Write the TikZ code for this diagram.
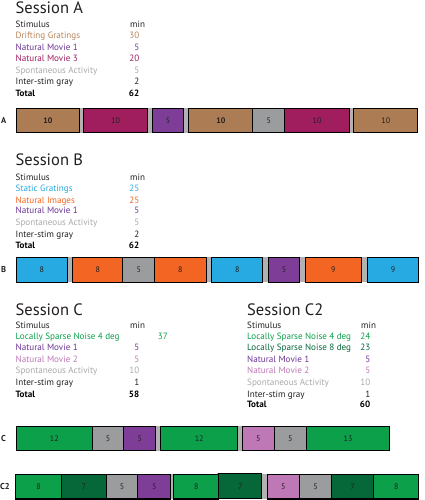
\documentclass[tikz,border=0pt]{standalone}
\usepackage{fontspec}
\setmainfont{PT Sans}
\definecolor{cbrown}{RGB}{172,124,84}
\definecolor{tbrown}{RGB}{184,134,90}
\definecolor{cmag}{RGB}{160,30,94}
\definecolor{cpurp}{RGB}{126,62,152}
\definecolor{tpurp}{RGB}{108,52,150}
\definecolor{cgray}{RGB}{155,156,158}
\definecolor{tgray}{RGB}{170,170,170}
\definecolor{ccyan}{RGB}{39,170,225}
\definecolor{corange}{RGB}{242,101,34}
\definecolor{cgreen}{RGB}{12,160,75}
\definecolor{cdgreen}{RGB}{6,104,56}
\definecolor{cpink}{RGB}{190,120,182}
\definecolor{cgap}{RGB}{178,178,178}
\definecolor{ink}{RGB}{35,31,32}
\tikzset{
  title/.style={anchor=base west, inner sep=0, font=\fontsize{16.5}{17}\selectfont, text=ink},
  row/.style={anchor=base west, inner sep=0, font=\fontsize{9.1}{10}\selectfont},
  num/.style={anchor=base east, inner sep=0, font=\fontsize{9.1}{10}\selectfont},
  bold/.style={font=\fontsize{9.1}{10}\selectfont\bfseries},
  barlabel/.style={anchor=west, inner sep=0, font=\fontsize{8.5}{9}\selectfont\bfseries, text=ink},
  box/.style={draw=black, line width=1.1pt, inner sep=0, anchor=west, font=\fontsize{8}{8}\selectfont, text=ink},
  bbox/.style={font=\fontsize{8}{8}\selectfont\bfseries},
  gapr/.style={fill=cgap, draw=none}
}
\begin{document}
\begin{tikzpicture}[x=1pt,y=-1pt]
\useasboundingbox (0,0) rectangle (424,500);
\fill[white] (0,0) rectangle (424,500);
% ---------- Session A ----------
\node[title] (tA) at (15.5,14) {Session A};
\node[row,text=ink] (sA0) at (15.5,28) {Stimulus};
\node[row,text=ink] (mA0) at (130,28) {min};
\node[row,text=tbrown] (sA1) at (15.5,39) {Drifting Gratings};
\node[num,text=tbrown] (mA1) at (139.5,39) {30};
\node[row,text=tpurp] (sA2) at (15.5,50.5) {Natural Movie 1};
\node[num,text=tpurp] (mA2) at (139.5,50.5) {5};
\node[row,text=cmag] (sA3) at (15.5,62) {Natural Movie 3};
\node[num,text=cmag] (mA3) at (139.5,62) {20};
\node[row,text=tgray] (sA4) at (15.5,73.5) {Spontaneous Activity};
\node[num,text=tgray] (mA4) at (139.5,73.5) {5};
\node[row,text=ink] (sA5) at (15.5,85) {Inter-stim gray};
\node[num,text=ink] (mA5) at (139.5,85) {2};
\node[row,bold,text=black] (sA6) at (15.5,96.5) {Total};
\node[num,bold,text=black] (mA6) at (139.5,96.5) {62};
% bar A
\fill[gapr] (78.5,108.3) rectangle (84,132.7);
\fill[gapr] (146.2,108.3) rectangle (152,132.7);
\fill[gapr] (183,108.3) rectangle (188.5,132.7);
\fill[gapr] (348.5,108.3) rectangle (353.5,132.7);
\node[barlabel] (LA) at (1,120.5) {A};
\node[box,bbox,fill=cbrown,minimum width=63.3pt,minimum height=24.4pt] (a1) at (15.7,120.5) {10};
\node[box,fill=cmag,minimum width=63.4pt,minimum height=24.4pt] (a2) at (83.3,120.5) {10};
\node[box,fill=cpurp,minimum width=31.6pt,minimum height=24.4pt] (a3) at (151.7,120.5) {5};
\node[box,bbox,fill=cbrown,minimum width=64pt,minimum height=24.4pt] (a4) at (188.3,120.5) {10};
\node[box,fill=cgray,minimum width=31.7pt,minimum height=24.4pt] (a5) at (252.3,120.5) {5};
\node[box,fill=cmag,minimum width=65pt,minimum height=24.4pt] (a6) at (284,120.5) {10};
\node[box,fill=cbrown,minimum width=64pt,minimum height=24.4pt] (a7) at (353.3,120.5) {10};
% ---------- Session B ----------
\node[title] (tB) at (15.5,165) {Session B};
\node[row,text=ink] (sB0) at (15.5,180) {Stimulus};
\node[row,text=ink] (mB0) at (130,180) {min};
\node[row,text=ccyan] (sB1) at (15.5,191.3) {Static Gratings};
\node[num,text=ccyan] (mB1) at (139.5,191.3) {25};
\node[row,text=corange] (sB2) at (15.5,203) {Natural Images};
\node[num,text=corange] (mB2) at (139.5,203) {25};
\node[row,text=tpurp] (sB3) at (15.5,213.8) {Natural Movie 1};
\node[num,text=tpurp] (mB3) at (139.5,213.8) {5};
\node[row,text=tgray] (sB4) at (15.5,225.7) {Spontaneous Activity};
\node[num,text=tgray] (mB4) at (139.5,225.7) {5};
\node[row,text=ink] (sB5) at (15.5,237) {Inter-stim gray};
\node[num,text=ink] (mB5) at (139.5,237) {2};
\node[row,bold,text=black] (sB6) at (15.5,248) {Total};
\node[num,bold,text=black] (mB6) at (139.5,248) {62};
% bar B
\fill[gapr] (66.2,257.3) rectangle (72.8,282.3);
\fill[gapr] (205.2,257.3) rectangle (211.5,282.3);
\fill[gapr] (261.8,257.3) rectangle (268.2,282.3);
\fill[gapr] (298.8,257.3) rectangle (305.5,282.3);
\fill[gapr] (360.2,257.3) rectangle (367.2,282.3);
\node[barlabel] (LB) at (1,270) {B};
\node[box,fill=ccyan,minimum width=51pt,minimum height=25pt] (b1) at (15.7,269.8) {8};
\node[box,fill=corange,minimum width=50pt,minimum height=25pt] (b2) at (72.3,269.8) {8};
\node[box,fill=cgray,minimum width=31.7pt,minimum height=25pt] (b3) at (122.3,269.8) {5};
\node[box,fill=corange,minimum width=51.7pt,minimum height=25pt] (b4) at (154,269.8) {8};
\node[box,fill=ccyan,minimum width=51.3pt,minimum height=25pt] (b5) at (211,269.8) {8};
\node[box,fill=cpurp,minimum width=31.6pt,minimum height=25pt] (b6) at (267.7,269.8) {5};
\node[box,fill=corange,minimum width=55.7pt,minimum height=25pt] (b7) at (305,269.8) {9};
\node[box,fill=ccyan,minimum width=51.6pt,minimum height=25pt] (b8) at (366.7,269.8) {9};
% ---------- Session C ----------
\node[title] (tC) at (15.5,315) {Session C};
\node[row,text=ink] (sC0) at (15.5,328) {Stimulus};
\node[row,text=ink] (mC0) at (130,328) {min};
\node[row,text=cgreen] (sC1) at (15.5,339.7) {Locally Sparse Noise 4 deg};
\node[num,text=cgreen] (mC1) at (168,339.7) {37};
\node[row,text=tpurp] (sC2) at (15.5,350.7) {Natural Movie 1};
\node[num,text=tpurp] (mC2) at (139.5,350.7) {5};
\node[row,text=cpink] (sC3) at (15.5,362) {Natural Movie 2};
\node[num,text=cpink] (mC3) at (139.5,362) {5};
\node[row,text=tgray] (sC4) at (15.5,373.7) {Spontaneous Activity};
\node[num,text=tgray] (mC4) at (139.5,373.7) {10};
\node[row,text=ink] (sC5) at (15.5,385.3) {Inter-stim gray};
\node[num,text=ink] (mC5) at (139.5,385.3) {1};
\node[row,bold,text=black] (sC6) at (15.5,397) {Total};
\node[num,bold,text=black] (mC6) at (139.5,397) {58};
% ---------- Session C2 ----------
\node[title] (tD) at (247,315) {Session C2};
\node[row,text=ink] (sD0) at (247,328) {Stimulus};
\node[row,text=ink] (mD0) at (361,328) {min};
\node[row,text=cgreen] (sD1) at (247,339.7) {Locally Sparse Noise 4 deg};
\node[num,text=cgreen] (mD1) at (370.5,339.7) {24};
\node[row,text=cdgreen] (sD2) at (247,350.7) {Locally Sparse Noise 8 deg};
\node[num,text=cdgreen] (mD2) at (370.5,350.7) {23};
\node[row,text=tpurp] (sD3) at (247,362) {Natural Movie 1};
\node[num,text=tpurp] (mD3) at (370.5,362) {5};
\node[row,text=cpink] (sD4) at (247,373.7) {Natural Movie 2};
\node[num,text=cpink] (mD4) at (370.5,373.7) {5};
\node[row,text=tgray] (sD5) at (247,385.3) {Spontaneous Activity};
\node[num,text=tgray] (mD5) at (370.5,385.3) {10};
\node[row,text=ink] (sD6) at (247,397) {Inter-stim gray};
\node[num,text=ink] (mD6) at (370.5,397) {1};
\node[row,bold,text=black] (sD7) at (247,407.3) {Total};
\node[num,bold,text=black] (mD7) at (370.5,407.3) {60};
% bar C
\fill[gapr] (154.5,426) rectangle (160.5,450.7);
\fill[gapr] (236.8,426) rectangle (242.2,450.7);
\node[barlabel] (LC) at (1,438.5) {C};
\node[box,fill=cgreen,minimum width=76pt,minimum height=24.7pt] (c1) at (15.7,438.4) {12};
\node[box,fill=cgray,minimum width=31.6pt,minimum height=24.7pt] (c2) at (91.7,438.4) {5};
\node[box,fill=cpurp,minimum width=31.7pt,minimum height=24.7pt] (c3) at (123.3,438.4) {5};
\node[box,fill=cgreen,minimum width=77.3pt,minimum height=24.7pt] (c4) at (160,438.4) {12};
\node[box,fill=cpink,minimum width=32.3pt,minimum height=24.7pt] (c5) at (241.7,438.4) {5};
\node[box,fill=cgray,minimum width=31.7pt,minimum height=24.7pt] (c6) at (274,438.4) {5};
\node[box,fill=cgreen,minimum width=83.6pt,minimum height=24.7pt] (c7) at (305.7,438.4) {13};
% bar C2
\fill[gapr] (169.5,474.3) rectangle (173.8,499);
\fill[gapr] (217,473) rectangle (262,499);
\fill[gapr] (260.5,474.3) rectangle (267.2,499);
\node[barlabel] (LD) at (0,487) {C2};
\node[box,fill=cgreen,minimum width=46pt,minimum height=24.5pt] (d1) at (15,486.7) {8};
\node[box,fill=cdgreen,minimum width=44.7pt,minimum height=24.5pt] (d2) at (61,486.7) {7};
\node[box,fill=cgray,minimum width=31.6pt,minimum height=24.5pt] (d3) at (105.7,486.7) {5};
\node[box,fill=cpurp,minimum width=32.7pt,minimum height=24.5pt] (d4) at (137.3,486.7) {5};
\node[box,fill=cgreen,minimum width=45pt,minimum height=24.5pt] (d5) at (173.3,486.7) {8};
\node[box,fill=cdgreen,minimum width=42.7pt,minimum height=25pt] (d6) at (218.3,486.4) {7};
\node[box,fill=cpink,minimum width=32.3pt,minimum height=24.5pt] (d7) at (266.7,486.7) {5};
\node[box,fill=cgray,minimum width=32pt,minimum height=24.5pt] (d8) at (299,486.7) {5};
\node[box,fill=cdgreen,minimum width=42.3pt,minimum height=24.5pt] (d9) at (331,486.7) {7};
\node[box,fill=cgreen,minimum width=45pt,minimum height=24.5pt] (d10) at (373.3,486.7) {8};
\end{tikzpicture}
\end{document}
